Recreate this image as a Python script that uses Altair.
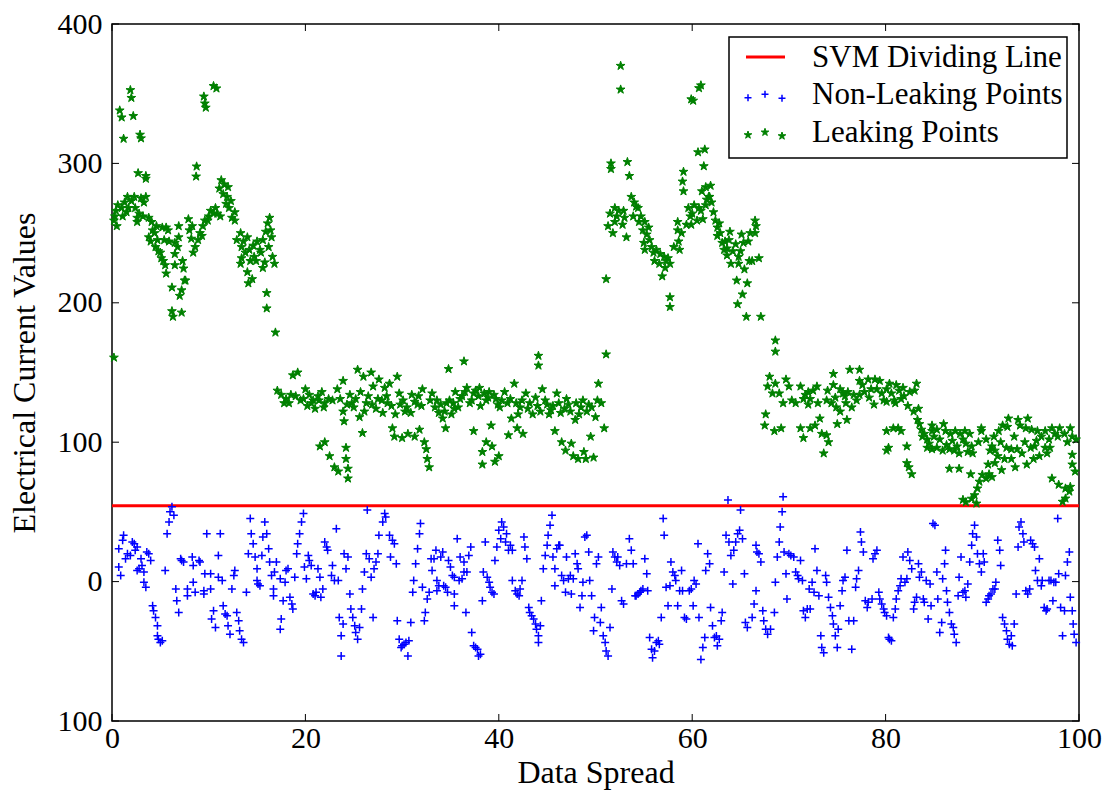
import altair as alt
import pandas as pd

# ---------------- data ----------------
svm_level = [54.5]

x_ticks = [0, 20, 40, 60, 80, 100]
y_ticks = [-100, 0, 100, 200, 300, 400]

nonleak_a = [
(0.7,23.6),(0.7,10.4),(0.9,4.4),(1.1,29.6),(1.2,33.2),(1.4,16.4),(1.6,20.0),(1.9,18.8),(2.1,28.4),(2.3,27.2),
(2.4,22.4),(2.6,24.8),(2.6,8.0),(2.8,9.2),(3.0,16.4),(3.1,11.6),(3.3,6.8),(3.3,-0.5),(3.5,-4.1),(3.6,21.2),
(3.8,20.0),(4.0,15.2),(4.2,-17.3),(4.3,-20.9),(4.5,-25.7),(4.7,-31.7),(4.7,-38.9),(4.8,-41.3),(5.0,-43.7),(5.2,-42.5),
(5.5,8.0),(5.7,34.4),(5.9,42.8),(6.0,50.1),(6.2,53.7),(6.4,47.6),(6.6,-5.3),(6.7,-13.7),(6.9,-22.1),(7.1,16.4),
(7.2,15.2),(7.4,14.0),(7.8,-5.3),(7.8,-10.1),(8.3,17.6),(8.4,11.6),(8.4,-0.5),(8.6,-7.7),(9.0,15.2),(9.1,14.0),
(9.5,-8.9),(9.5,-6.5),(9.6,5.6),(9.8,34.4),(10.2,5.6),(10.2,-5.3),(10.5,-20.9),(10.3,-26.9),(10.7,-32.9),(11.0,18.8),
(11.0,3.2),(11.2,34.4),(11.4,0.7),(11.5,-17.3),(11.7,-23.3),(11.9,-24.5),(12.0,-31.7),(12.2,-37.7),(12.4,-5.3),(12.6,4.4),
(12.7,8.0),(12.9,-22.1),(13.1,-28.1),(13.2,-35.3),(13.4,-41.3),(13.6,-43.7),(13.9,-7.7),(14.3,45.2),(14.4,34.4),(14.6,27.2),
(14.1,20.0),(14.8,17.6),(15.0,9.2),(15.0,0.7),(15.1,-1.7),(15.3,-2.9),(15.5,18.8),(15.6,32.0),(15.8,42.8),(16.0,34.4),
(16.2,23.6),(16.3,14.0),(16.5,4.4),(16.7,-5.3),(16.7,-10.1),(16.8,6.8),(17.0,14.0),(17.4,2.0),(17.5,-26.9),(17.4,-34.1),
(17.7,-13.7),(17.9,-0.5),(18.0,8.0),(18.2,9.2),(18.4,-11.3),(18.6,-16.1),(18.7,-19.7),(18.9,3.2),(19.1,20.0),(19.2,27.2),
(19.4,34.4),(19.6,42.8),(19.8,48.9),(19.9,10.4),(20.1,2.0),(20.3,18.8),(20.4,15.2),(20.6,11.6),(20.8,-8.9),(21.0,-10.1),
(21.1,-7.7),(21.3,9.2),(21.5,3.2),(21.6,-11.3),(21.8,-5.3),(22.0,28.4),(22.2,24.8),(22.3,22.4),(22.7,4.4),(22.8,11.6),
(23.0,0.7),(23.2,38.0),(23.4,0.7),(23.5,-25.7),(23.7,-53.4),(23.7,-38.9),(23.9,-30.5),(24.0,20.0),(24.2,9.2),(24.4,17.6),
(24.6,-8.9),(24.7,-19.7),(24.9,-25.7),(25.1,-31.7),(25.2,-36.5),(25.4,-41.3),(25.6,-32.9),(25.8,-19.7),(25.9,-5.3),(26.1,6.8),
(26.3,20.0),(26.4,51.3),(26.6,16.4),(26.8,3.2),(27.0,-25.7),(27.1,9.2),(27.3,14.0),(27.5,20.0),(27.6,33.2),(28.0,42.8),
(28.2,48.9),(28.3,46.4),(28.7,33.2),(28.8,17.6),(29.0,29.6),(29.2,27.2),(29.4,12.8),(29.5,-28.1),(29.7,-41.3),(29.9,-47.3),
(30.0,-46.1),(30.2,-45.0),(30.4,-43.7),(30.6,-53.4),(30.7,-42.5),(30.9,-29.3),(31.1,-7.7),(31.2,0.7),(31.4,12.8),(31.6,23.6),
(31.8,34.4),(31.9,41.6),(32.1,-4.1),(32.3,-28.1),(32.4,-22.1),(32.6,-12.5),(32.8,-7.7),(33.0,16.4),
]

nonleak_b = [
(33.1,8.0),(33.3,16.4),(33.5,22.4),(33.6,0.7),(33.6,-6.5),(33.8,-2.9),(34.0,17.6),(34.2,21.2),(34.3,-2.9),(34.5,-4.1),
(34.7,-7.7),(34.8,15.2),(35.0,10.4),(35.2,4.4),(35.4,3.2),(35.4,-8.9),(35.4,-17.3),(35.7,30.8),(35.9,0.7),(36.0,17.6),
(36.2,2.0),(36.4,14.0),(36.4,6.8),(36.6,-22.1),(36.7,6.8),(36.9,18.8),(37.1,24.8),(37.2,-36.5),(37.4,-46.1),(37.6,-47.3),
(37.8,-48.6),(37.9,-53.4),(38.1,-52.2),(38.3,-13.7),(38.4,6.8),(38.6,28.4),(38.8,3.2),(39.0,-0.5),(39.1,-4.1),(39.3,-7.7),
(39.5,-8.9),(39.6,15.2),(39.8,24.8),(40.0,36.8),(40.2,30.8),(40.3,42.8),(40.5,39.2),(40.7,28.4),(40.8,34.4),(41.0,22.4),
(41.2,26.0),(41.4,22.4),(41.4,0.7),(41.7,-6.5),(41.9,-8.9),(42.1,-10.1),(42.2,-5.3),(42.4,0.7),(42.6,32.0),(42.7,24.8),
(42.9,16.4),(43.1,-18.5),(43.2,-22.1),(43.4,-24.5),(43.6,-26.9),(43.8,-30.5),(43.9,-34.1),(44.1,-38.9),(44.1,-43.7),(44.3,-31.7),
(44.4,-13.7),(44.6,9.2),(44.8,18.8),(45.0,26.0),(45.1,33.2),(45.3,40.4),(45.5,47.6),(45.6,17.6),(45.8,9.2),(45.8,-2.9),
(46.0,23.6),(46.2,26.0),(46.3,26.0),(46.5,4.4),(46.7,0.7),(46.9,-7.7),(47.0,17.6),(47.2,2.0),(47.4,4.4),(47.5,-8.9),
(47.7,2.0),(47.9,20.0),(48.1,12.8),(48.2,9.2),(48.4,-18.5),(48.6,-10.1),(48.7,-0.5),(48.9,32.0),(49.1,33.2),(49.3,21.2),
(49.4,0.7),(49.6,-10.1),(49.8,-35.3),(49.9,-25.7),(50.1,12.8),(50.3,17.6),(50.5,-29.3),(50.6,-18.5),(50.8,-38.9),(51.0,-43.7),
(51.1,-49.8),(51.3,-53.4),(51.5,-32.9),(51.7,-5.3),(51.8,21.2),(52.0,17.6),(52.2,14.0),(52.3,17.6),(52.5,11.6),(52.7,-13.7),
(52.9,-16.1),(53.2,12.8),(53.5,30.8),(53.7,22.4),(53.9,12.8),(54.1,-10.1),(54.2,-10.1),(54.4,-8.9),(54.6,-7.7),(54.7,-6.5),
(54.9,-5.3),(55.1,16.4),(55.3,5.6),(55.4,-6.5),(55.6,-40.1),(55.8,-48.6),(55.9,-54.6),(56.1,-49.8),(56.3,-43.7),(56.5,-42.5),
(56.6,-45.0),(56.8,-25.7),(57.0,45.2),(57.1,33.2),(57.3,-4.1),(57.5,-17.3),(57.7,-2.9),(57.8,14.0),(58.0,6.8),(58.2,4.4),
(58.3,0.7),(58.5,-17.3),(58.7,-6.5),(58.9,8.0),(59.0,-6.5),(59.2,-25.7),(59.4,-26.9),(59.7,-6.5),(59.9,-5.3),(60.1,-17.3),
(60.2,0.7),(60.4,-1.7),(60.6,27.2),(60.7,-25.7),(60.9,-55.8),(61.1,-47.3),(61.3,-40.1),(61.4,8.0),(61.6,20.0),(61.8,12.8),
(61.9,-18.5),(62.1,-31.7),(62.3,-40.1),(62.5,-39.0),(62.6,-46.1),(62.8,-41.3),(63.0,-28.1),(63.1,-22.1),(63.3,6.8),(63.5,33.2),
(63.7,58.5),(63.8,28.4),(64.0,18.8),(64.2,-1.7),(64.3,22.4),(64.5,28.4),(64.7,34.4),(64.9,36.8),(65.0,51.3),(65.2,30.8),
(65.4,5.6),(65.5,-29.3),(65.7,-32.9),
]

nonleak_c = [
(66.6,26.0),(66.7,21.2),(66.9,20.0),(67.1,14.0),(66.6,-6.5),(66.4,-16.1),(66.2,-25.7),(67.3,-20.9),(67.4,-28.1),(67.6,-34.1),
(67.8,-37.7),(68.1,-34.1),(68.5,-22.1),(68.6,-0.5),(68.8,17.6),(69.0,28.4),(69.1,39.2),(69.3,50.1),(69.4,60.9),(69.5,21.2),
(69.7,5.6),(69.8,-12.5),(70.0,20.0),(70.2,18.8),(70.5,17.6),(70.7,6.8),(70.9,4.4),(71.0,2.0),(71.2,15.2),(71.4,0.7),
(71.5,-20.9),(71.7,-25.7),(71.9,-19.7),(72.1,-5.3),(72.2,-19.7),(72.4,-0.5),(72.6,-7.7),(72.7,23.6),(72.9,8.0),(73.1,-10.1),
(73.3,-38.9),(73.4,-47.3),(73.6,-51.0),(73.8,4.4),(73.9,-0.5),(74.1,-11.3),(74.3,-18.5),(74.5,-24.5),(74.6,-30.5),(74.8,-38.9),
(75.0,-47.3),(75.1,-34.1),(75.3,-17.3),(75.5,-6.5),(75.6,0.7),(75.8,3.2),(76.0,22.4),(76.2,-28.1),(76.5,-48.6),(76.7,-28.1),
(76.9,-4.1),(77.0,2.0),(77.2,8.0),(77.4,35.6),(77.5,28.4),(77.7,21.2),(77.9,-13.7),(78.1,-18.5),(78.2,-14.9),(78.6,-12.5),
(78.7,16.4),(78.9,20.0),(79.1,22.4),(79.3,-7.7),(79.4,-12.5),(79.6,-16.1),(79.8,-19.7),(79.9,-22.1),(80.1,-24.5),(80.3,-40.1),
(80.4,-41.3),(80.6,-42.5),(80.8,-25.7),(81.0,-19.7),(81.1,-12.5),(81.3,-6.5),(81.5,-2.9),(81.6,2.0),(81.8,17.6),(82.0,-0.5),
(82.2,2.0),(82.3,21.2),(82.5,15.2),(82.7,9.2),(82.9,-19.7),(83.0,-14.9),(83.2,-11.3),(83.4,12.8),(83.5,3.2),(83.7,6.8),
(83.9,-12.5),(84.0,-14.9),(84.2,0.7),(84.4,-26.9),(84.6,-1.7),(84.7,-17.3),(84.9,41.6),(85.1,40.4),(85.3,6.8),(85.4,-12.5),
(85.6,-36.5),(85.8,-29.3),(85.9,2.0),(86.1,12.8),(86.2,22.4),(86.3,-6.5),(86.4,-14.9),(86.6,-22.1),(86.8,-30.5),(87.0,-32.9),
(87.1,-37.7),(87.3,-43.7),(87.5,-10.1),(87.6,3.2),(87.8,17.6),(88.0,-7.7),(88.2,-6.5),(88.3,-11.3),(88.5,-1.7),(88.7,14.0),
(88.9,26.0),(89.0,34.4),(89.2,40.4),(89.4,32.0),(89.5,20.0),(89.7,12.8),(89.9,6.8),(90.1,20.0),(90.2,14.0),(90.4,-14.9),
(90.6,-12.5),(90.7,-10.1),(90.9,-8.9),(91.1,-5.3),(91.3,-5.3),(91.4,-0.5),(91.6,29.6),(91.8,22.4),(91.9,11.6),(92.1,-25.7),
(92.3,-30.5),(92.5,-35.3),(92.6,-41.3),(92.8,-45.0),(93.0,-38.9),(93.1,-46.1),(93.3,-30.5),(93.5,-8.9),(93.7,24.8),(93.8,39.2),
(94.0,42.8),(94.2,34.4),(94.3,28.4),(94.5,-6.5),(94.7,-8.9),(94.9,-5.3),(95.0,29.6),(95.2,27.2),(95.4,24.8),(95.5,8.0),
(95.7,0.7),(95.9,16.4),(96.1,-2.9),(96.2,0.7),(96.4,-18.5),(96.6,-20.9),(96.7,-19.7),(96.9,0.7),(97.1,0.7),(97.3,-13.7),
(97.4,-0.5),(97.6,-0.5),(97.8,45.2),(97.9,5.6),(98.1,-18.5),(98.3,-38.9),(98.5,-20.9),(98.6,4.4),(98.8,14.0),(99.0,21.2),
(99.1,-11.3),(99.3,-20.9),(99.4,-30.5),(99.5,-37.7),(99.7,-43.7),
]

leak_a = [
(0.2,160.7),(0.2,259),(0.3,262),(0.4,266),(0.6,270),(0.8,338),(1.0,333),(1.2,317.7),(1.0,268),(1.3,272),
(1.5,265),(1.7,268),(1.9,352.6),(2.0,347),(2.2,334),(2.0,273),(2.3,276),(2.6,258),(2.6,261),(2.7,293),
(2.9,320.6),(3.0,318),(3.0,275),(3.3,272),(3.5,291),(3.5,289),(3.5,276),(3.8,261),(3.8,247),(4.0,244),
(4.2,252),(4.4,250),(4.5,240),(4.7,245),(4.8,237),(5.0,236),(5.1,232),(5.3,230),(5.5,227),(5.6,221),
(5.2,254),(5.6,254),(5.8,252),(6.2,211),(6.2,194),(6.3,190),(6.5,243),(6.5,235),(6.5,227),(6.9,247),
(6.9,255),(7.0,205),(7.2,193),(7.2,209),(7.4,224.6),(7.5,216),(7.6,216),(7.9,260),(8.0,252),(8.2,246),
(8.4,236),(8.6,240),(8.75,297.8),(8.7,290.6),(9.1,250),(9.3,248),(9.6,259),(9.9,259),(9.5,348),(9.6,343),
(9.7,340),(10.5,355.5),(10.8,353.8),(10.2,266),(10.5,264),(10.9,264),(11.2,262),(11.3,288),(11.6,285),(12.0,283),
(11.5,278),(11.9,276),(12.3,273),(12.7,265),(12.7,259),(12.4,261),(13.3,250),(13.4,240),(13.4,232),(13.3,228),
(13.8,236),(14.0,247),(14.2,238),(14.6,241),(14.7,233),(14.0,222),(14.5,217),(14.1,214),(15.0,244),(15.3,238),
(15.6,245),(15.9,251),(16.1,257),(16.3,261),(16.5,247),(16.6,233),(16.8,228),(15.8,229),(15.6,225),(16.0,207),
(16.0,196),(16.9,178.7),
(0.5,255),(1.1,262),(1.6,276),(2.4,268),(2.8,264),(3.2,262),(4.1,258),(4.6,255),(5.4,245),(5.9,244),
(6.8,240),(7.3,230),(8.3,255),(8.9,245),(9.4,255),(10.0,262),(10.7,268),(11.1,282),(11.8,271),(12.1,268),
(12.9,245),(13.6,244),(14.3,230),(14.9,230),(15.4,236),(16.2,240),(16.4,252),
]

leak_b = [
(17.1,137),(17.5,134),(18.0,131),(18.3,128),(18.7,148),(19.2,150),(19.0,133),(19.5,130),(20.0,138),(20.4,134),
(20.8,130),(21.3,133),(21.7,136),(22.0,128),(22.4,131),(21.5,97),(22.0,100),(22.5,90),(23.0,82),(23.4,79),
(22.8,130),(23.3,138),(23.9,144),(23.9,122),(24.0,115),(24.2,96),(24.2,88),(24.4,81),(24.4,74),(24.6,134),
(25.0,125),(25.4,152),(25.6,118),(25.9,106.6),(26.0,147),(26.3,128),(26.8,150),(27.0,140),(27.3,124),(27.6,145),
(27.9,130),(28.2,139),(28.5,128),(28.7,142),(29.0,110),(29.2,104),(29.5,147),(29.8,127),(30.0,103),(30.3,122),
(30.6,106),(31.0,134),(31.3,104),(31.6,127),(31.8,109),(32.1,138),(32.3,100),(32.5,95),(32.6,88),(32.8,82),
(32.9,130),(33.1,135),(33.4,125),(33.8,121),(34.2,117),(34.5,110),(34.6,128),(34.8,152.5),(35.1,120),(35.4,124),
(35.5,136),(36.0,131),(36.4,158),(36.7,139),(37.0,128),(37.4,108),(37.4,135),(37.9,133),(38.1,126),(38.3,93),
(38.3,84),(38.7,100),(38.9,132),(39.2,112),(39.3,97),(39.5,134),(39.6,86),(39.9,127),(40.0,90),(40.3,130),
(40.6,136),(41.0,105),(41.3,117),(41.6,142),(41.9,110),(42.2,125),(42.5,106),(42.8,135),(43.0,124),(43.5,120),
(44.0,126),(44.1,162),(44.1,155),(44.5,138),(45.0,127),(45.4,123),(45.8,108),(46.0,135),(46.4,121),(46.5,100),
(46.9,94),(47.2,127),(47.5,99),(47.7,90),(47.9,116),(48.2,88),(48.5,125),(48.8,93),(49.0,88),(49.3,127),
(49.5,104),(49.8,89),(50.0,118),(50.3,142),(50.6,128),(50.9,110),(51.1,163),
(24.8,128),(25.2,131),(25.7,136),(26.1,122),(26.5,133),(26.9,127),(27.5,131),(28.0,121),(28.4,133),(28.9,126),
(29.3,120),(29.7,135),(30.1,130),(30.5,125),(30.9,121),(31.3,129),(31.7,133),(32.0,126),(33.6,130),(34.0,127),
(34.4,122),(34.9,130),(35.3,128),(35.8,125),(36.2,133),(36.5,136),(37.2,130),(37.6,137),(38.0,139),(38.5,135),
(38.7,130),(39.0,136),(39.7,131),(40.1,125),(40.9,128),(41.2,131),(41.8,128),(42.0,120),(42.4,130),(43.2,128),
(43.8,132),(44.3,122),(44.8,130),(45.2,120),(45.6,126),(46.2,128),(46.8,124),(47.0,131),(47.4,122),(48.0,128),
(48.3,120),(48.7,130),(49.1,122),(49.6,125),(50.2,130),(20.2,126),(20.6,128),(21.0,124),(21.9,125),(18.5,134),
(19.8,131),(17.8,128),(21.4,130),(23.6,131),(24.3,127),
]

leak_c = [
(51.1,217),(51.3,255),(51.5,264),(51.6,300),(51.6,296),(51.8,250),(52.0,258),(52.2,262),(52.4,266),(52.6,370),
(52.6,353),(52.8,256),(53.0,261),(53.2,247),(53.3,301),(53.5,291),(53.7,276),(54.0,272),(54.2,269),(54.4,268),
(54.7,262),(54.9,252),(55.1,258),(55.3,249),(55.5,254),(55.0,243),(55.6,245),(55.1,238),(56.0,236),(56.1,230),
(56.6,228),(56.7,235),(57.1,233),(57.3,230),(57.5,232),(57.7,228),(57.2,225),(56.9,219),(57.7,204),(57.7,197),
(58.5,258),(58.5,252),(58.6,244),(58.7,238),(59.1,294),(59.0,287),(59.1,280),(59.6,268),(59.8,262),(60.0,264),
(59.9,256),(60.5,259),(61.1,260),(60.7,268),(61.4,270),(61.7,276),(59.9,346),(60.1,345),(60.7,354),(60.9,356),
(60.6,308),(61.3,310),(61.2,298),(61.0,280),(61.4,283),(61.9,284),(61.8,276),(62.0,272),(61.5,274),(62.4,259),
(62.6,254),(62.8,257),(62.6,248),(63.1,243),(63.4,244),(63.6,239),(63.9,251),(63.6,234),(63.3,238),(64.5,242),
(64.8,233),(65.0,237),(65.1,249),(65.9,230),(65.4,224),(65.7,214),(64.8,228),(64.6,216),(65.2,206),(64.7,199),
(65.6,190),(67.1,190),(66.5,259),(66.6,255),(66.5,250),(66.9,232),(68.6,173),(68.6,165),
(52.0,268),(52.9,266),(53.9,262),(54.5,258),(55.8,240),(56.3,238),(58.1,240),(58.9,250),(59.4,256),(60.2,270),
(60.9,266),(62.2,265),(62.9,250),(63.8,245),(64.2,237),(65.3,243),(66.2,230),(64.0,228),(65.8,244),(66.0,250),
]

leak_d = [
(67.5,112),(67.6,120),(67.8,140),(68.0,147),(68.3,135),(68.6,142),(69.0,135),(69.4,128),(69.7,145),(70.0,140),
(70.3,130),(70.7,128),(69.2,110),(68.5,108),(71.2,140),(71.7,134),(72.0,136),(72.5,137),(72.9,140),(72.2,131),
(71.5,131),(72.0,127),(71.2,110),(71.5,103),(72.2,110),(72.7,112),(73.2,117),(73.4,106),(73.9,105),(74.1,100),
(73.6,92),(74.6,149),(74.6,141),(75.3,138),(75.6,135),(76.1,136),(76.3,152),(77.3,152),(77.3,144),(73.9,130),
(74.4,128),(74.9,125),(75.3,122),(76.0,116),(75.0,113),(75.8,133),(76.7,134),(77.3,134),(77.8,136),(78.3,132),
(78.8,127),(78.2,145),(78.9,145),(79.4,144),(79.1,138),(79.6,135),(80.1,138),(80.6,135),(81.1,141),(81.4,137),
(81.8,139),(83.2,142),(83.0,137),(80.1,129),(80.9,130),(81.6,131),(82.3,126),(82.9,122),(83.4,124),(80.1,108),
(80.3,96),(80.1,94),(80.8,110),(81.3,110),(81.6,108),(82.2,97),(82.2,85),(82.4,82),(82.7,77),(83.3,116),
(83.5,113),(83.7,109),(83.8,104),(84.3,102),(84.8,108),(85.3,109),(84.8,112),(86.0,113),(86.2,108),(86.7,106),
(87.2,108),(87.7,106),(88.2,108),(88.7,106),(84.3,96),(84.8,95),(85.3,96),(85.9,94),(86.6,95),(87.1,94),
(87.6,92),(88.3,99),(88.5,93),(89.0,92),(86.6,81),(87.6,81),(88.8,77),(89.9,108),(89.9,110),(90.4,102),
(91.2,104),(91.7,108),(92.1,112),(92.6,111),(92.7,117),(93.7,116),(93.9,112),(94.7,117),(94.5,110),(95.1,109),
(91.0,97),(91.3,94),(91.6,90),(91.3,85),(92.3,88),(93.0,88),(93.0,95),(93.6,95),(94.1,92),(95.3,88),
(95.9,90),(95.4,97),(95.6,101),(88.0,58.7),(88.3,57),(88.9,59.5),(89.4,56),(89.2,62),(89.5,66.8),(89.7,71.7),
(90.0,76.6),(90.4,74),(90.7,77),(91.0,75),(95.7,108),(96.5,108),(97.2,110),(97.5,106),(97.8,104),(98.5,106),
(99.1,110),(99.3,104),(96.5,96),(97.0,96),(96.7,92),(97.2,74),(97.9,69.5),(98.6,66.8),(99.0,64.6),(98.6,59.6),
(98.3,57.3),(99.1,68),(99.3,84),(99.3,91),(99.6,79),
(73.0,128),(74.0,137),(74.8,132),(75.9,128),(76.5,125),(77.0,130),(77.6,141),(78.5,138),(79.8,130),(80.4,142),
(81.0,128),(81.9,133),(82.5,136),(84.0,106),(84.5,99),(85.0,104),(85.6,102),(86.3,98),(86.9,101),(87.4,97),
(88.0,102),(88.9,97),(89.6,100),(90.8,94),(91.9,100),(92.5,96),(93.3,104),(94.4,100),(95.0,96),(96.1,104),
(96.9,102),(98.0,110),(98.8,100),(99.7,102),(93.4,82),(94.6,84),(92.0,80),(90.6,84),
]

legend_labels = ["SVM Dividing Line", "Non-Leaking Points", "Leaking Points"]

# ---------------- frames ----------------
def frame(pairs):
    return pd.DataFrame(pairs, columns=["x", "y"])

nonleak_df = frame(nonleak_a + nonleak_b + nonleak_c)
leak_df = frame(leak_a + leak_b + leak_c + leak_d)
svm_df = pd.DataFrame({"y": svm_level})
xt_df = pd.DataFrame({"x": x_ticks})
yt_df = pd.DataFrame({"y": y_ticks})

W, H = 967, 697
FONT = "Liberation Serif"
PLUS = "M-1,0L1,0M0,-1L0,1"
STAR = ("M0,-1L0.225,-0.309L0.951,-0.309L0.363,0.118L0.588,0.809L0,0.382"
        "L-0.588,0.809L-0.363,0.118L-0.951,-0.309L-0.225,-0.309Z")

xs = alt.Scale(domain=[0, 100], nice=False, zero=False)
ys = alt.Scale(domain=[-100, 400], nice=False, zero=False)

x_axis = alt.Axis(values=x_ticks, format="d", ticks=False, tickSize=0, domain=False, grid=False,
                  labelFlush=False, labelOverlap=False,
                  labelFont=FONT, labelFontSize=30, labelColor="black", labelPadding=2,
                  titleFont=FONT, titleFontSize=32, titleFontWeight="normal", titleColor="black",
                  titlePadding=4)
y_axis = alt.Axis(values=y_ticks, labelExpr="abs(datum.value)", ticks=False, tickSize=0,
                  domain=False, grid=False, labelFlush=False, labelOverlap=False,
                  labelFont=FONT, labelFontSize=30, labelColor="black", labelPadding=10,
                  titleFont=FONT, titleFontSize=32, titleFontWeight="normal", titleColor="black",
                  titlePadding=16)

XT = "Data Spread"
YT = "Electrical Current Values"

def X(field="x"):
    return alt.X(f"{field}:Q", scale=xs, axis=x_axis, title=XT)

def Y(field="y"):
    return alt.Y(f"{field}:Q", scale=ys, axis=y_axis, title=YT)

svm_line = alt.Chart(svm_df).mark_rule(color="#ff0000", strokeWidth=3).encode(
    y=Y(), x=alt.value(0), x2=alt.value(W))

nonleak = alt.Chart(nonleak_df).mark_point(
    shape=PLUS, filled=False, stroke="#0000ff", strokeWidth=1.5, size=64, opacity=1
).encode(x=X(), y=Y())

leak = alt.Chart(leak_df).mark_point(
    shape=STAR, filled=True, fill="#008000", stroke="#008000", strokeWidth=1, size=85, opacity=1
).encode(x=X(), y=Y())

# inward tick marks on all four sides
TL = 7
xt_bottom = alt.Chart(xt_df).mark_rule(color="black", strokeWidth=1).encode(
    x=X(), y=alt.value(H), y2=alt.value(H - TL))
xt_top = alt.Chart(xt_df).mark_rule(color="black", strokeWidth=1).encode(
    x=X(), y=alt.value(0), y2=alt.value(TL))
yt_left = alt.Chart(yt_df).mark_rule(color="black", strokeWidth=1).encode(
    y=Y(), x=alt.value(0), x2=alt.value(TL))
yt_right = alt.Chart(yt_df).mark_rule(color="black", strokeWidth=1).encode(
    y=Y(), x=alt.value(W), x2=alt.value(W - TL))

# legend (drawn by hand, matplotlib style with three scatter points per entry)
one = alt.Data(values=[{}])
lg_box = alt.Chart(one).mark_rect(fill="white", stroke="black", strokeWidth=1.5).encode(
    x=alt.value(617), x2=alt.value(955), y=alt.value(13), y2=alt.value(134))
lg_line = alt.Chart(one).mark_rule(color="#ff0000", strokeWidth=3).encode(
    x=alt.value(634), x2=alt.value(673), y=alt.value(33))
lg_plus_df = pd.DataFrame({"px": [636, 653, 670], "py": [73.7, 70.3, 74.3]})
lg_star_df = pd.DataFrame({"px": [636, 653, 670], "py": [111.0, 108.3, 112.0]})
lg_plus = alt.Chart(lg_plus_df).mark_point(
    shape=PLUS, filled=False, stroke="#0000ff", strokeWidth=1.5, size=49, opacity=1
).encode(x=alt.X("px:Q", scale=None), y=alt.Y("py:Q", scale=None))
lg_star = alt.Chart(lg_star_df).mark_point(
    shape=STAR, filled=True, fill="#008000", stroke="#008000", strokeWidth=1, size=64, opacity=1
).encode(x=alt.X("px:Q", scale=None), y=alt.Y("py:Q", scale=None))
lg_text_df = pd.DataFrame({"label": legend_labels, "px": [700, 700, 700], "py": [42.7, 79.5, 118.0]})
lg_text = alt.Chart(lg_text_df).mark_text(
    font=FONT, fontSize=31, align="left", baseline="alphabetic", color="black"
).encode(x=alt.X("px:Q", scale=None), y=alt.Y("py:Q", scale=None), text="label:N")

chart = alt.layer(
    svm_line, nonleak, leak, xt_bottom, xt_top, yt_left, yt_right,
    lg_box, lg_line, lg_plus, lg_star, lg_text,
).properties(
    width=W, height=H,
    autosize=alt.AutoSizeParams(type="none"),
    padding={"left": 112, "top": 24, "right": 28, "bottom": 71},
    background="white",
).configure_view(stroke="black", strokeWidth=1.5)

chart.save("out.html", embed_options={"renderer": "svg", "actions": False})
